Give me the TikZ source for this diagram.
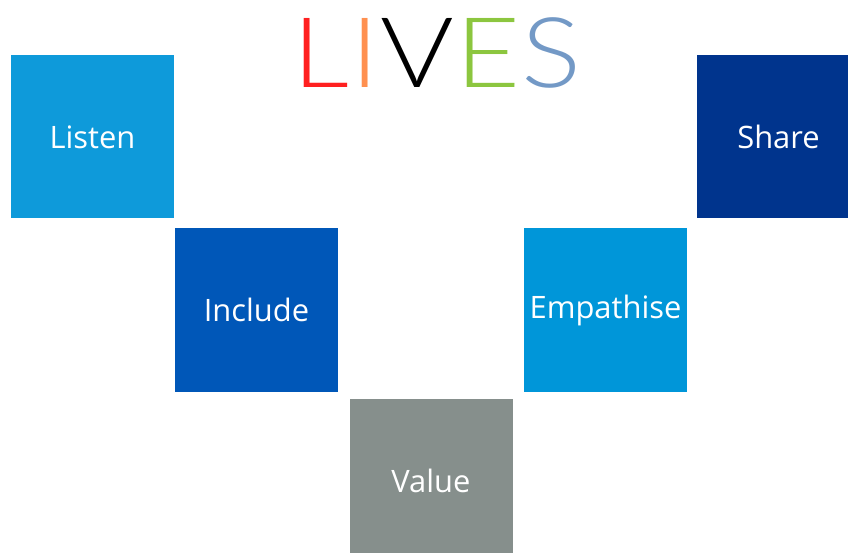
\documentclass[tikz,border=0pt]{standalone}
\usepackage{fontspec}
\setmainfont{Open Sans}
\newfontfamily\titlefont[FakeStretch=1.15]{Lato Light}
\usepackage{xcolor}
\usepackage{tikz}
\usetikzlibrary{positioning}
\definecolor{listenblue}{HTML}{0E9ADA}
\definecolor{includeblue}{HTML}{0057B8}
\definecolor{valuegray}{HTML}{868F8C}
\definecolor{empathblue}{HTML}{0096D9}
\definecolor{shareblue}{HTML}{00348D}
\definecolor{lred}{HTML}{FF2020}
\definecolor{iorange}{HTML}{FF9050}
\definecolor{egreen}{HTML}{8CC63F}
\definecolor{sblue}{HTML}{7399C6}
\newcommand{\lsp}{\kern1bp}
\tikzset{
    tile/.style={rectangle, minimum size=163bp, inner sep=0pt, text=white, font=\fontsize{31}{36}\selectfont, align=center},
    title/.style={font=\titlefont\fontsize{98}{110}\selectfont, inner sep=0pt, anchor=base}
}

\begin{document}
\begin{tikzpicture}[x=1bp, y=-1bp]
    \useasboundingbox (0,0) rectangle (848,553);
    % Heading
    \node[title] (heading) at (437,88) {\color{lred}L\lsp\color{iorange}I\lsp\color{black}V\lsp\color{egreen}E\lsp\color{sblue}S};

    % Tiles
    \begin{scope}
        \clip (0,0) rectangle (848,553);
        \node[tile, fill=listenblue] (listen) at (92.5,137) {Listen};
        \node[tile, fill=includeblue] (include) at (256.5,310) {Include};
        \node[tile, fill=valuegray] (value) at (431,480.5) {Value};
        \node[tile, fill=empathblue] (empathise) at (605.5,310) {Empathise};
        \node[tile, fill=shareblue] (share) at (778.5,136.5) {Share};
    \end{scope}
\end{tikzpicture}
\end{document}
